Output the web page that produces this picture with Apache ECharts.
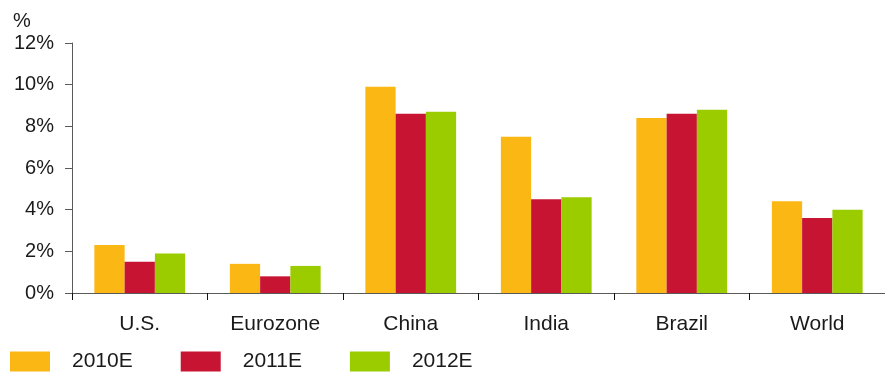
<!DOCTYPE html>
<html>
<head>
<meta charset="utf-8">
<script src="https://cdn.jsdelivr.net/npm/echarts@6/dist/echarts.min.js"></script>
<style>
  html, body { margin: 0; padding: 0; background: #fff; overflow: hidden; }
  #chart { width: 885px; height: 373px; }
</style>
</head>
<body>
<div id="chart"></div>
<script>
// Real GDP growth forecasts by economy (%)
const categories = ['U.S.', 'Eurozone', 'China', 'India', 'Brazil', 'World'];
const seriesNames = ['2010E', '2011E', '2012E'];
const growth2010 = [2.3, 1.4, 9.9, 7.5, 8.4, 4.4];
const growth2011 = [1.5, 0.8, 8.6, 4.5, 8.6, 3.6];
const growth2012 = [1.9, 1.3, 8.7, 4.6, 8.8, 4.0];
const colors = ['#FBB713', '#C71432', '#9BCC00'];

const font = 'Liberation Sans, Arial, sans-serif';
const textColor = '#1a1a1a';

const chart = echarts.init(document.getElementById('chart'), null, { renderer: 'canvas' });

const values = [growth2010, growth2011, growth2012];

chart.setOption({
  animation: false,
  color: colors,
  textStyle: { fontFamily: font },
  title: {
    text: '%',
    left: 13,
    top: 11,
    padding: 0,
    textStyle: { fontFamily: font, fontSize: 20, fontWeight: 'normal', color: textColor }
  },
  legend: {
    left: 10,
    top: 351,
    padding: 0,
    itemWidth: 40,
    itemHeight: 20,
    itemGap: 48,
    icon: 'rect',
    textStyle: { fontFamily: font, fontSize: 21, color: textColor, padding: [0, 0, 0, 17] },
    data: seriesNames
  },
  // the category axis runs a few pixels past the right edge of the canvas
  grid: { left: 72, right: -6, top: 43, bottom: 80 },
  xAxis: {
    type: 'category',
    data: categories,
    axisLine: { lineStyle: { color: '#5a5a5a', width: 1 } },
    axisTick: { show: true, length: 7, lineStyle: { color: '#111' } },
    axisLabel: { fontFamily: font, fontSize: 21, color: textColor, margin: 21 }
  },
  yAxis: {
    type: 'value',
    min: 0,
    max: 12,
    interval: 2,
    axisLine: { show: true, lineStyle: { color: '#5a5a5a', width: 1 } },
    axisTick: { show: true, length: 7, lineStyle: { color: '#5a5a5a' } },
    splitLine: { show: false },
    axisLabel: {
      fontFamily: font, fontSize: 20, color: textColor, margin: 18,
      formatter: v => v + '%'
    }
  },
  series: seriesNames.map((name, i) => ({
    name,
    type: 'bar',
    data: values[i],
    barGap: '0%',
    barCategoryGap: '33%',
    itemStyle: { color: colors[i] }
  }))
});
</script>
</body>
</html>
